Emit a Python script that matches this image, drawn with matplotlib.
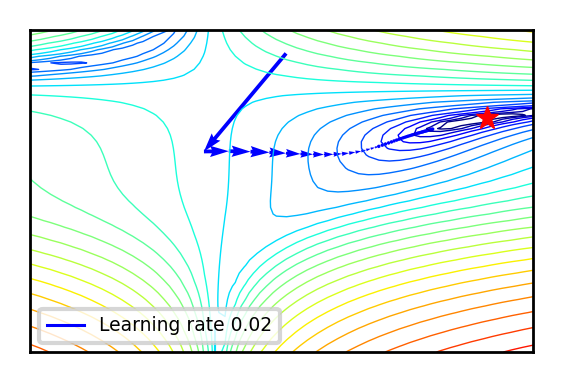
import numpy as np
import matplotlib
matplotlib.use('Agg')
import matplotlib.pyplot as plt
from matplotlib.colors import LogNorm

# Gradient descent path on the Beale surface (learning rate 0.02)
path_x = [0.800, -0.098, 0.174, 0.411, 0.618, 0.799, 0.957, 1.095, 1.214, 1.318,
          1.409, 1.488, 1.558, 1.621, 1.676, 1.726, 1.772, 1.814, 1.852, 1.888,
          1.921, 1.952, 1.981, 2.009, 2.035, 2.059, 2.083, 2.105, 2.126, 2.146,
          2.165, 2.183, 2.201, 2.217, 2.233, 2.249, 2.263, 2.278, 2.291, 2.304,
          2.317, 2.329, 2.341, 2.352, 2.363, 2.374, 2.384, 2.394, 2.403, 2.413]
path_y = [1.600, -0.075, -0.070, -0.078, -0.091, -0.105, -0.117, -0.124, -0.127, -0.123,
          -0.115, -0.103, -0.087, -0.069, -0.049, -0.028, -0.007, 0.013, 0.033, 0.053,
          0.071, 0.088, 0.105, 0.120, 0.134, 0.147, 0.160, 0.171, 0.182, 0.192,
          0.201, 0.210, 0.218, 0.226, 0.234, 0.241, 0.247, 0.253, 0.259, 0.265,
          0.271, 0.276, 0.281, 0.286, 0.290, 0.295, 0.299, 0.303, 0.307, 0.311]

# Global minimum of the Beale function
minimum = [3.0, 0.5]

x_range = [-2.0, 3.5]
y_range = [-3.5, 2.0]
levels = np.logspace(-1, 5, 27)
label = 'Learning rate 0.02'


def beale(x, y):
    return (1.5 - x + x * y) ** 2 + (2.25 - x + x * y ** 2) ** 2 + (2.625 - x + x * y ** 3) ** 2


fig = plt.figure(figsize=(5.64, 3.83), dpi=100)
ax = fig.add_axes([30 / 564, 31 / 383, 503 / 564, 322 / 383])

xs = np.linspace(x_range[0], x_range[1], 50)
ys = np.linspace(y_range[0], y_range[1], 50)
X, Y = np.meshgrid(xs, ys)
ax.contour(X, Y, beale(X, Y), levels=levels, norm=LogNorm(), cmap='jet', linewidths=1)

px = np.array(path_x)
py = np.array(path_y)
ax.quiver(px[:-1], py[:-1], px[1:] - px[:-1], py[1:] - py[:-1],
          scale_units='xy', angles='xy', scale=1, color='b')
ax.plot([], [], color='b', lw=2.2, label=label)
ax.plot(minimum[0], minimum[1], 'r*', markersize=17)

ax.set_xlim(x_range)
ax.set_ylim(y_range)
ax.set_xticks([])
ax.set_yticks([])
for s in ax.spines.values():
    s.set_linewidth(2)

leg = ax.legend(loc='lower left', fontsize=13.5)
leg.get_frame().set_linewidth(3)

fig.savefig('out.png', dpi=100)
